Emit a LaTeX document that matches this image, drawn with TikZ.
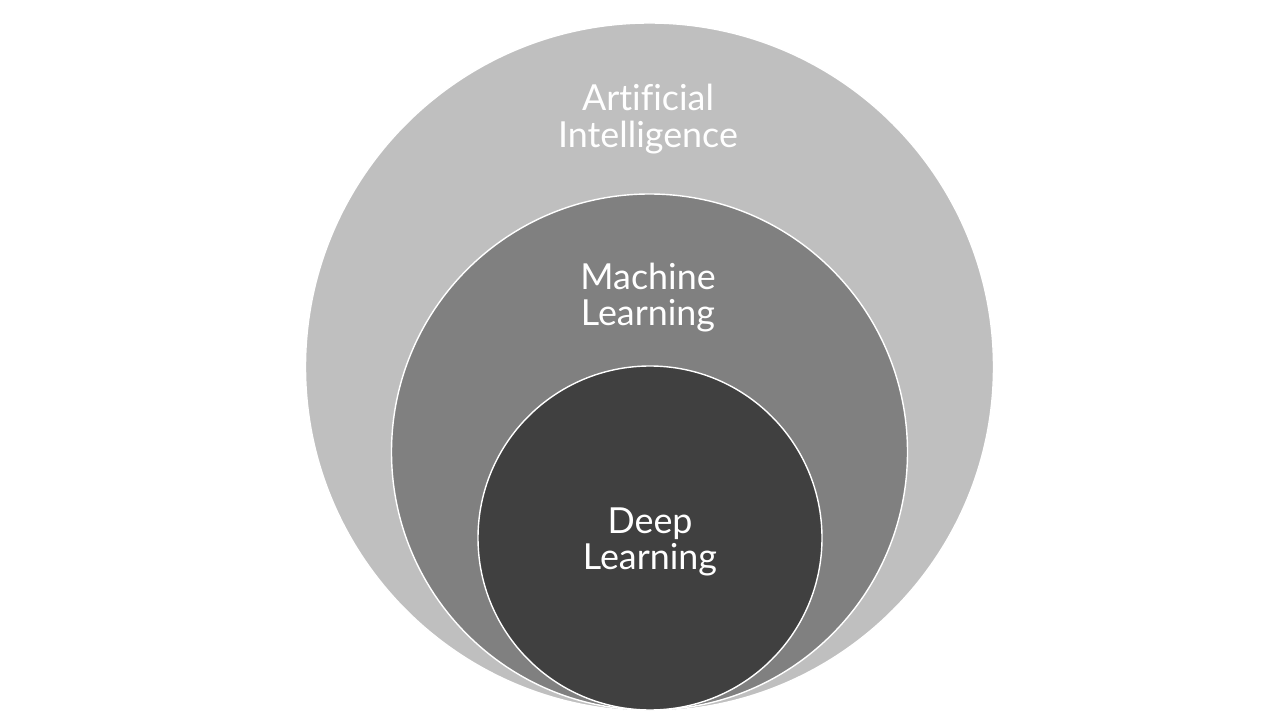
\documentclass[tikz,border=0pt]{standalone}
\usepackage{fontspec}
\setmainfont{Lato}[Ligatures=NoCommon]
\usepackage{tikz}
\usetikzlibrary{positioning, calc}

\begin{document}
\begin{tikzpicture}[scale=1, ring/.style={circle, draw=white, line width=0.4pt, inner sep=0pt}, ringtext/.style={text=white, align=center, font=\fontsize{10.2}{10.3}\selectfont}]
\useasboundingbox (0,0) rectangle (12.84,7.27);

\coordinate (AIc) at (6.495,3.60);
\coordinate (MLc) at (6.495,2.75);
\coordinate (DLc) at (6.50,1.89);

\node [ring, fill={rgb,255:red,191;green,191;blue,191}, minimum size=6.88cm] (ai) at (AIc) {};
\node [ring, fill={rgb,255:red,128;green,128;blue,128}, minimum size=5.16cm] (ml) at (MLc) {};
\node [ring, fill={rgb,255:red,64;green,64;blue,64}, minimum size=3.44cm] (dl) at (DLc) {};

\node [ringtext] (aitext) at (6.48,6.08) {Artificial\\Intelligence};
\node [ringtext] (mltext) at (6.48,4.295) {Machine\\Learning};
\node [ringtext] (dltext) at (6.50,1.85) {Deep\\Learning};
\end{tikzpicture}
\end{document}
